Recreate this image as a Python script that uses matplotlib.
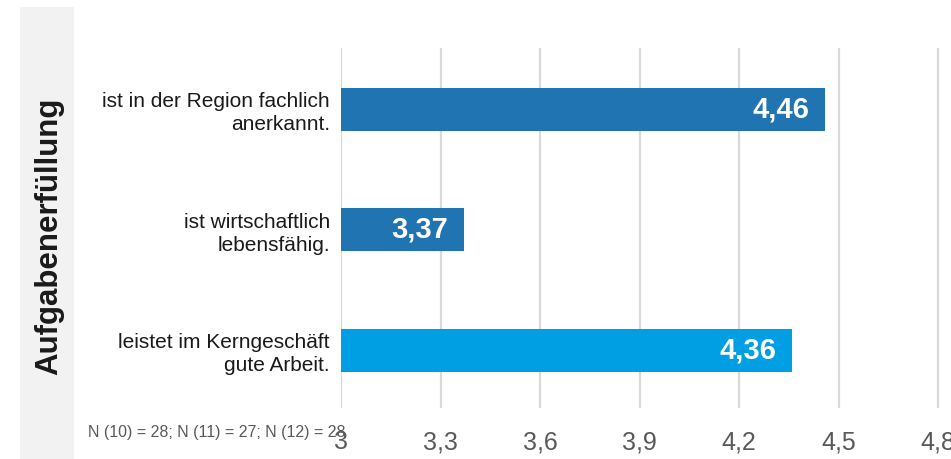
import matplotlib.pyplot as plt
from matplotlib.patches import Rectangle

plt.rcParams['font.family'] = ['Liberation Sans', 'DejaVu Sans']

# Data
categories = ["ist in der Region fachlich\nanerkannt.",
              "ist wirtschaftlich\nlebensfähig.",
              "leistet im Kerngeschäft\ngute Arbeit."]
values = [4.46, 3.37, 4.36]
colors = ["#1F74B1", "#1F74B1", "#009FE3"]
xticks = [3, 3.3, 3.6, 3.9, 4.2, 4.5, 4.8]
note = "N (10) = 28; N (11) = 27; N (12) = 28"

W, H = 951, 459
fig = plt.figure(figsize=(W / 100, H / 100), dpi=100)

# grey side strip
fig.patches.append(Rectangle((20 / W, 0), 54 / W, (H - 7) / H,
                             transform=fig.transFigure, facecolor="#F2F2F2",
                             edgecolor="none", zorder=0))
fig.text(49 / W, (H - 236) / H, "Aufgabenerfüllung", rotation=90,
         ha="center", va="center", fontsize=22.5, fontweight="bold", color="#1a1a1a")

ax = fig.add_axes([341 / W, 51 / H, 610 / W, 360 / H])
ypos = list(range(len(values)))
ax.barh(ypos, [v - 3 for v in values], left=3, height=0.36, color=colors, zorder=3)

for y, v in zip(ypos, values):
    ax.text(v - 0.048, y, f"{v:.2f}".replace(".", ","), ha="right", va="center",
            color="white", fontsize=21, fontweight="bold", zorder=4)

ax.set_xlim(3, 4.839)
ax.set_ylim(2.48, -0.51)
ax.set_xticks(xticks)
ax.set_xticklabels([f"{t:g}".replace(".", ",") for t in xticks],
                   fontsize=18, color="#595959")
ax.set_yticks(ypos)
ax.set_yticklabels(categories, fontsize=15, color="#1a1a1a", linespacing=1.25)
ax.tick_params(axis="both", length=0)
ax.tick_params(axis="y", pad=8)
ax.tick_params(axis="x", pad=16)
ax.grid(axis="x", color="#D9D9D9", linewidth=1.6, zorder=0)
for s in ax.spines.values():
    s.set_visible(False)

fig.text(88 / W, (H - 432) / H, note, ha="left", va="center",
         fontsize=11.5, color="#595959")

fig.savefig("out.png", dpi=100)
